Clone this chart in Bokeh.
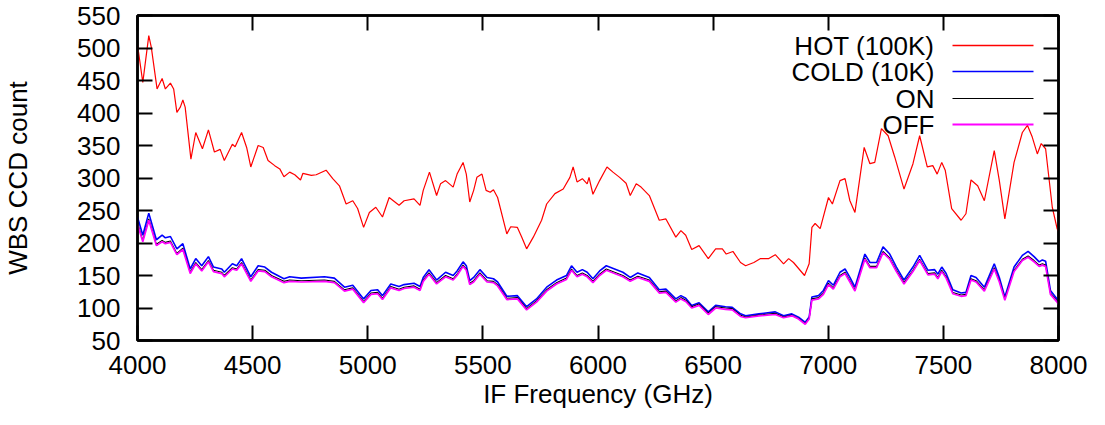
from bokeh.plotting import figure
from bokeh.models import Range1d, FixedTicker, LinearAxis, Label, Arrow
from bokeh.embed import file_html
from bokeh.resources import INLINE

# ---------------- data ----------------
hot_freq = [4000, 4023, 4049, 4060, 4085, 4107, 4121, 4143, 4157, 4171, 4186, 4197, 4207, 4232, 4253,
            4282, 4308, 4334, 4359, 4377, 4412, 4424, 4452, 4474, 4492, 4524, 4546, 4567, 4596, 4618,
            4636, 4661, 4683, 4708, 4718, 4755, 4776, 4819, 4848, 4877, 4906, 4935, 4956, 4982, 5007,
            5035, 5064, 5093, 5136, 5158, 5201, 5227, 5241, 5268, 5299, 5316, 5338, 5371, 5388, 5414,
            5428, 5443, 5460, 5474, 5496, 5514, 5532, 5546, 5564, 5604, 5621, 5650, 5669, 5690, 5719,
            5755, 5777, 5813, 5849, 5878, 5892, 5909, 5932, 5953, 5961, 5978, 6007, 6039, 6065, 6094,
            6122, 6140, 6166, 6187, 6223, 6266, 6295, 6338, 6360, 6381, 6407, 6439, 6479, 6511, 6540,
            6557, 6586, 6619, 6641, 6677, 6706, 6742, 6770, 6806, 6828, 6849, 6897, 6917, 6929, 6943,
            6965, 7001, 7018, 7051, 7073, 7094, 7116, 7156, 7181, 7202, 7231, 7260, 7289, 7329, 7368,
            7397, 7430, 7454, 7473, 7493, 7508, 7536, 7577, 7598, 7620, 7649, 7678, 7721, 7743, 7767,
            7807, 7843, 7865, 7886, 7908, 7925, 7944, 7973, 7994, 8000]
hot_count = [505, 447, 519, 501, 437, 453, 437, 446, 437, 401, 409, 420, 409, 329, 370,
             345, 374, 340, 344, 327, 352, 348, 370, 347, 317, 350, 347, 327, 319, 314,
             302, 309, 305, 297, 307, 304, 305, 312, 299, 288, 260, 265, 253, 224, 247,
             255, 240, 270, 258, 265, 268, 258, 281, 309, 273, 291, 296, 286, 306, 324,
             306, 263, 281, 301, 306, 281, 278, 282, 270, 214, 225, 224, 209, 191, 209,
             235, 260, 276, 283, 301, 317, 294, 299, 291, 301, 275, 296, 317, 309, 301,
             292, 273, 291, 286, 273, 235, 237, 209, 219, 212, 190, 196, 176, 191, 191,
             183, 187, 170, 165, 170, 176, 176, 182, 168, 176, 170, 150, 168, 224, 230,
             222, 270, 260, 296, 299, 265, 247, 347, 322, 324, 376, 365, 332, 283, 322,
             365, 317, 319, 306, 324, 312, 253, 235, 245, 297, 288, 265, 342, 296, 237,
             324, 370, 381, 363, 337, 353, 345, 255, 222, 218]

low_freq = [4000, 4023, 4049, 4082, 4107, 4121, 4143, 4171, 4197, 4229, 4253, 4279, 4308, 4330, 4366,
            4377, 4412, 4431, 4452, 4492, 4524, 4553, 4582, 4636, 4661, 4711, 4812, 4855, 4899, 4935,
            4982, 5014, 5043, 5064, 5100, 5136, 5158, 5201, 5227, 5241, 5266, 5299, 5338, 5371, 5388,
            5414, 5428, 5443, 5460, 5487, 5518, 5546, 5564, 5604, 5650, 5690, 5733, 5777, 5820, 5863,
            5885, 5909, 5932, 5953, 5978, 6007, 6036, 6072, 6108, 6140, 6173, 6223, 6266, 6295, 6338,
            6360, 6381, 6407, 6439, 6479, 6511, 6554, 6583, 6619, 6641, 6699, 6770, 6806, 6842, 6871,
            6900, 6917, 6929, 6958, 6979, 7001, 7022, 7051, 7073, 7094, 7116, 7159, 7181, 7210, 7238,
            7267, 7296, 7329, 7368, 7397, 7433, 7462, 7476, 7493, 7512, 7541, 7577, 7598, 7620, 7642,
            7678, 7721, 7743, 7767, 7807, 7843, 7868, 7894, 7916, 7930, 7944, 7965, 7994, 8000]
cold_count = [240, 212, 246, 205, 212, 208, 210, 191, 199, 160, 176, 165, 179, 163, 160,
              155, 168, 165, 176, 148, 165, 163, 155, 145, 148, 146, 148, 146, 132, 135,
              114, 127, 128, 119, 137, 133, 136, 138, 133, 147, 159, 143, 155, 150, 157,
              171, 165, 142, 147, 159, 147, 145, 140, 118, 119, 102, 114, 132, 143, 150,
              165, 155, 159, 155, 145, 157, 165, 160, 155, 147, 154, 147, 128, 129, 114,
              119, 115, 104, 108, 94, 104, 102, 101, 91, 88, 91, 94, 88, 91, 86,
              78, 86, 117, 119, 127, 142, 135, 155, 160, 147, 132, 183, 170, 170, 194,
              183, 163, 143, 163, 181, 158, 159, 152, 163, 153, 128, 123, 124, 150, 147,
              132, 168, 147, 117, 163, 181, 187, 179, 171, 174, 172, 127, 114, 110]
on_count = [231, 204, 237, 198, 204, 201, 203, 184, 192, 155, 170, 159, 173, 158, 155,
            150, 162, 160, 170, 143, 159, 158, 150, 141, 143, 142, 143, 141, 128, 131,
            110, 123, 124, 115, 133, 129, 132, 134, 129, 143, 154, 139, 150, 145, 152,
            166, 160, 138, 142, 154, 142, 141, 136, 115, 116, 99, 111, 128, 139, 146,
            160, 150, 154, 150, 141, 152, 160, 155, 150, 143, 149, 143, 125, 126, 111,
            116, 112, 102, 106, 92, 102, 100, 99, 89, 86, 89, 92, 86, 89, 84,
            76, 84, 114, 116, 123, 138, 131, 150, 155, 142, 128, 177, 164, 164, 187,
            177, 158, 139, 158, 175, 153, 154, 147, 158, 148, 124, 120, 121, 145, 142,
            128, 162, 142, 114, 158, 175, 180, 173, 166, 168, 166, 123, 111, 107]
off_count = [229, 202, 235, 196, 202, 199, 201, 182, 190, 153, 168, 157, 171, 156, 153,
             148, 160, 158, 168, 141, 157, 156, 148, 139, 141, 140, 141, 139, 126, 129,
             108, 121, 122, 113, 131, 127, 130, 132, 127, 141, 152, 137, 148, 143, 150,
             164, 158, 136, 140, 152, 140, 139, 134, 113, 114, 97, 109, 126, 137, 144,
             158, 148, 152, 148, 139, 150, 158, 153, 148, 141, 147, 141, 123, 124, 109,
             114, 110, 100, 104, 90, 100, 98, 97, 87, 85, 88, 90, 85, 88, 83,
             75, 83, 112, 114, 121, 136, 129, 148, 153, 140, 126, 175, 162, 162, 185,
             175, 156, 137, 156, 173, 151, 152, 145, 156, 146, 122, 118, 119, 143, 140,
             126, 160, 140, 112, 156, 173, 178, 171, 164, 166, 164, 121, 109, 105]

series_names = ["HOT (100K)", "COLD (10K)", "ON", "OFF"]
series_colors = ["#ff0000", "#0000ff", "#000000", "#ff00ff"]
series_widths = [1.2, 1.6, 1.1, 1.7]
key_widths = [1.6, 1.6, 1.1, 2.0]
x_ticks = [4000, 4500, 5000, 5500, 6000, 6500, 7000, 7500, 8000]
y_ticks = [50, 100, 150, 200, 250, 300, 350, 400, 450, 500, 550]
x_title = "IF Frequency (GHz)"
y_title = "WBS CCD count"

FONT = "Liberation Sans"
FS = "26px"

p = figure(width=1100, height=425, output_backend="svg", toolbar_location=None,
           title=None, x_range=Range1d(4000, 8000), y_range=Range1d(50, 550),
           min_border_left=131, min_border_right=42, min_border_top=15, min_border_bottom=85)
p.xgrid.visible = False
p.ygrid.visible = False
p.outline_line_color = "black"
p.outline_line_width = 2.5
p.background_fill_color = "white"
p.border_fill_color = "white"

p.line(hot_freq, hot_count, line_color=series_colors[0], line_width=series_widths[0])
p.line(low_freq, cold_count, line_color=series_colors[1], line_width=series_widths[1])
p.line(low_freq, on_count, line_color=series_colors[2], line_width=series_widths[2])
p.line(low_freq, off_count, line_color=series_colors[3], line_width=series_widths[3])

bottom_ax = p.xaxis[0]
left_ax = p.yaxis[0]
top_ax = LinearAxis()
right_ax = LinearAxis()
p.add_layout(top_ax, "above")
p.add_layout(right_ax, "right")

for ax, tk in ((bottom_ax, x_ticks), (left_ax, y_ticks), (top_ax, x_ticks), (right_ax, y_ticks)):
    ax.ticker = FixedTicker(ticks=tk)
    ax.minor_tick_line_color = None
    ax.major_tick_in = 15
    ax.major_tick_out = 0
    ax.major_tick_line_width = 2
    ax.major_tick_line_color = "black"
    ax.axis_line_width = 2.5
    ax.axis_line_color = "black"
    ax.major_label_text_font = FONT
    ax.major_label_text_color = "black"
    ax.major_label_text_font_size = FS

# mirror axes: ticks only, labels not drawn
for ax in (top_ax, right_ax):
    ax.major_label_text_color = None
    ax.major_label_text_font_size = "1px"
    ax.major_label_standoff = 0

bottom_ax.major_label_standoff = 15
left_ax.major_label_standoff = 17

bottom_ax.axis_label = x_title
left_ax.axis_label = y_title
for ax in (bottom_ax, left_ax):
    ax.axis_label_text_font = FONT
    ax.axis_label_text_font_size = FS
    ax.axis_label_text_font_style = "normal"
    ax.axis_label_text_color = "black"
bottom_ax.axis_label_standoff = 2
left_ax.axis_label_standoff = 41

# gnuplot-style key: right-aligned text followed by a line sample
key_rows = [295, 269, 242, 216]
for name, color, lw, y in zip(series_names, series_colors, key_widths, key_rows):
    p.add_layout(Label(x=797, y=y, x_units="screen", y_units="screen", text=name,
                       text_align="right", text_baseline="middle",
                       text_font=FONT, text_font_size=FS, text_color="black"))
    p.add_layout(Arrow(x_start=815, y_start=y, x_end=896, y_end=y,
                       start_units="screen", end_units="screen", start=None, end=None,
                       line_color=color, line_width=lw))

open("out.html", "w").write(file_html(p, INLINE))
